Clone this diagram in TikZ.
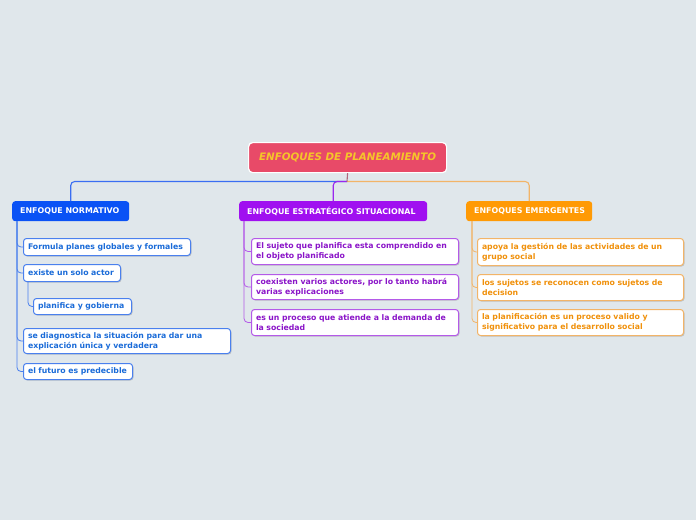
\documentclass[tikz,border=0pt]{standalone}
\usepackage{fontspec}
\setmainfont{DejaVu Sans}
\usetikzlibrary{shadows}
\definecolor{bgc}{HTML}{E0E7EB}
\definecolor{rootc}{HTML}{E84A68}
\definecolor{roots}{HTML}{B0687C}
\definecolor{roott}{HTML}{F5C52A}
\definecolor{bluh}{HTML}{0A52F5}
\definecolor{blut}{HTML}{1A6BD8}
\definecolor{blul}{HTML}{4A80EE}
\definecolor{bluc}{HTML}{3A6EF2}
\definecolor{purh}{HTML}{A010F0}
\definecolor{purt}{HTML}{8A14C8}
\definecolor{purl}{HTML}{B45AE8}
\definecolor{purc}{HTML}{9A28EE}
\definecolor{orah}{HTML}{FF9A05}
\definecolor{orat}{HTML}{F0900A}
\definecolor{oral}{HTML}{F2B468}
\tikzset{
  hdr/.style={rounded corners=3pt, inner xsep=0pt, inner ysep=0pt, minimum height=20pt, anchor=north west, text=white, font=\bfseries\fontsize{7.9}{9.5}\selectfont},
  bx/.style={draw, fill=white, line width=1pt, rounded corners=3pt, inner xsep=4.5pt, inner ysep=1pt, anchor=north west, align=left,
    execute at begin node={\hyphenpenalty=10000},
    font=\bfseries\fontsize{7.75}{9.6}\selectfont, drop shadow={shadow xshift=1pt, shadow yshift=-1pt, opacity=0.35, fill=gray}},
  conn/.style={line width=1.1pt, rounded corners=4pt},
  sub/.style={line width=0.8pt, rounded corners=4pt}
}
\begin{document}
\begin{tikzpicture}[x=1pt,y=-1pt]
\fill[bgc] (0,0) rectangle (696,520);
\useasboundingbox (0,0) rectangle (696,520);
% root
\node[draw=white, line width=1.2pt, fill=rootc, rounded corners=4pt, minimum width=198pt, minimum height=30pt, anchor=north west, text=roott, font=\bfseries\itshape\fontsize{10.3}{12}\selectfont] (root) at (248,142) {ENFOQUES DE PLANEAMIENTO};
% headers
\node[hdr, fill=bluh, minimum width=117pt] (nor) at (12,201) {\makebox[101pt][l]{ENFOQUE NORMATIVO}};
\node[hdr, fill=purh, minimum width=188pt] (est) at (239,201) {\makebox[172pt][l]{ENFOQUE ESTRATÉGICO SITUACIONAL}};
\node[hdr, fill=orah, minimum width=126pt] (eme) at (466,201) {\makebox[110pt][l]{ENFOQUES EMERGENTES}};
% root connectors
\coordinate (rj) at (347,181.5);
\draw[conn, bluc] (rj) -| (nor.north);
\draw[conn, purc] (rj) -| (est.north);
\draw[conn, oral] (rj) -| (eme.north);
\draw[conn, roots, rounded corners=0pt] (root.south) -- (rj);
% normativo children
\node[bx, draw=blul, text=blut, text width=158pt, minimum height=17pt] (n1) at (23,238) {Formula planes globales y formales};
\node[bx, draw=blul, text=blut, text width=88pt, minimum height=17pt] (n2) at (23,264) {existe un solo actor};
\node[bx, draw=blul, text=blut, text width=89pt, minimum height=16pt] (n3) at (33,298) {planifica y gobierna};
\node[bx, draw=blul, text=blut, text width=198pt, minimum height=25pt] (n4) at (23,328) {se diagnostica la situación para dar una\\explicación única y verdadera};
\node[bx, draw=blul, text=blut, text width=100pt, minimum height=16pt] (n5) at (23,363) {el futuro es predecible};
\coordinate (nb) at (17,221);
\foreach \c in {n1,n2,n4,n5} \draw[sub, blul] (nb) |- (\c.west);
\coordinate (n2b) at (28,281);
\draw[sub, blul] (n2b) |- (n3.west);
% estrategico children
\node[bx, draw=purl, text=purt, text width=198pt, minimum height=26pt] (e1) at (251,238) {El sujeto que planifica esta comprendido en\\el objeto planificado};
\node[bx, draw=purl, text=purt, text width=198pt, minimum height=25pt] (e2) at (251,274) {coexisten varios actores, por lo tanto habrá\\varias explicaciones};
\node[bx, draw=purl, text=purt, text width=198pt, minimum height=26pt] (e3) at (251,309) {es un proceso que atiende a la demanda de\\la sociedad};
\coordinate (eb) at (244,221);
\foreach \c in {e1,e2,e3} \draw[sub, purl] (eb) |- (\c.west);
% emergentes children
\node[bx, draw=oral, text=orat, text width=197pt, minimum height=27pt] (m1) at (477,238) {apoya la gestión de las actividades de un\\grupo social};
\node[bx, draw=oral, text=orat, text width=197pt, minimum height=26pt] (m2) at (477,274) {los sujetos se reconocen como sujetos de\\decision};
\node[bx, draw=oral, text=orat, text width=197pt, minimum height=26pt] (m3) at (477,309) {la planificación es un proceso valido y\\significativo para el desarrollo social};
\coordinate (mb) at (472,221);
\foreach \c in {m1,m2,m3} \draw[sub, oral] (mb) |- (\c.west);
\end{tikzpicture}
\end{document}
